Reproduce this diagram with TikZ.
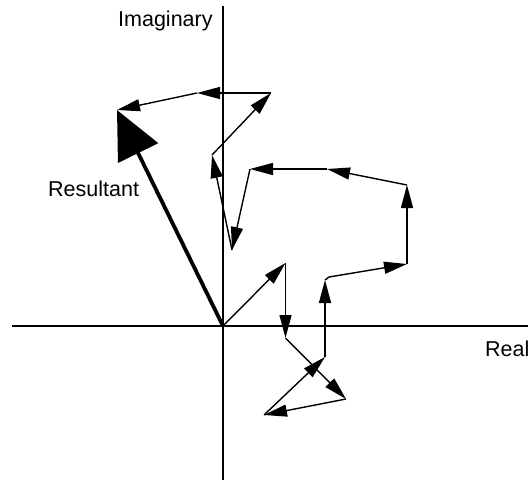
\documentclass[tikz,border=0pt]{standalone}
\usepackage{fontspec}
\setmainfont{Liberation Sans}
\usetikzlibrary{arrows.meta}

\begin{document}
\begin{tikzpicture}[x=1pt, y=-1pt, >={Triangle[length=23pt, width=12pt]},
      font=\fontsize{21.5}{24}\selectfont,
      axis/.style={line width=1.8pt},
      ph/.style={->, line width=1.4pt},
      res/.style={-{Triangle[length=48pt, width=44pt]}, line width=3.8pt},
      lbl/.style={anchor=base west, inner sep=0pt}]
    \useasboundingbox (0,0) rectangle (528,482);
    % axes
    \coordinate (ytop) at (223,6);
    \coordinate (ybot) at (223,480);
    \coordinate (xl) at (12,326);
    \coordinate (xr) at (528,326);
    \draw[axis] (ybot) -- (ytop);
    \draw[axis] (xl) -- (xr);
    \node[lbl] (imag) at (118,26) {Imaginary};
    \node[lbl] (real) at (485,356) {Real};
    \node[lbl] (resl) at (48,196) {Resultant};
    % phasor chain, head to tail
    \coordinate (o)   at (223,326);
    \coordinate (p1)  at (285.5,263);
    \coordinate (p2)  at (285.5,338);
    \coordinate (p3)  at (346,399);
    \coordinate (p4)  at (264,415);
    \coordinate (p5)  at (325,357);
    \coordinate (p6)  at (325,280);
    \coordinate (p6k) at (329,277);
    \coordinate (p7)  at (407,264);
    \coordinate (p8)  at (407,185);
    \coordinate (p9)  at (327,169);
    \coordinate (p10) at (250,169);
    \coordinate (p11) at (232,250);
    \coordinate (p12) at (212,155);
    \coordinate (p13) at (271,93);
    \coordinate (p14) at (197,93);
    \coordinate (p15) at (117,110);
    \foreach \a/\b in {o/p1, p1/p2, p2/p3, p3/p4, p4/p5, p5/p6, p6k/p7, p7/p8,
        p8/p9, p9/p10, p10/p11, p11/p12, p12/p13, p13/p14, p14/p15}
      \draw[ph] (\a) -- (\b);
    \draw[line width=1.4pt] (p6) -- (p6k);
    % resultant
    \draw[res] (o) -- (p15);
\end{tikzpicture}
\end{document}
